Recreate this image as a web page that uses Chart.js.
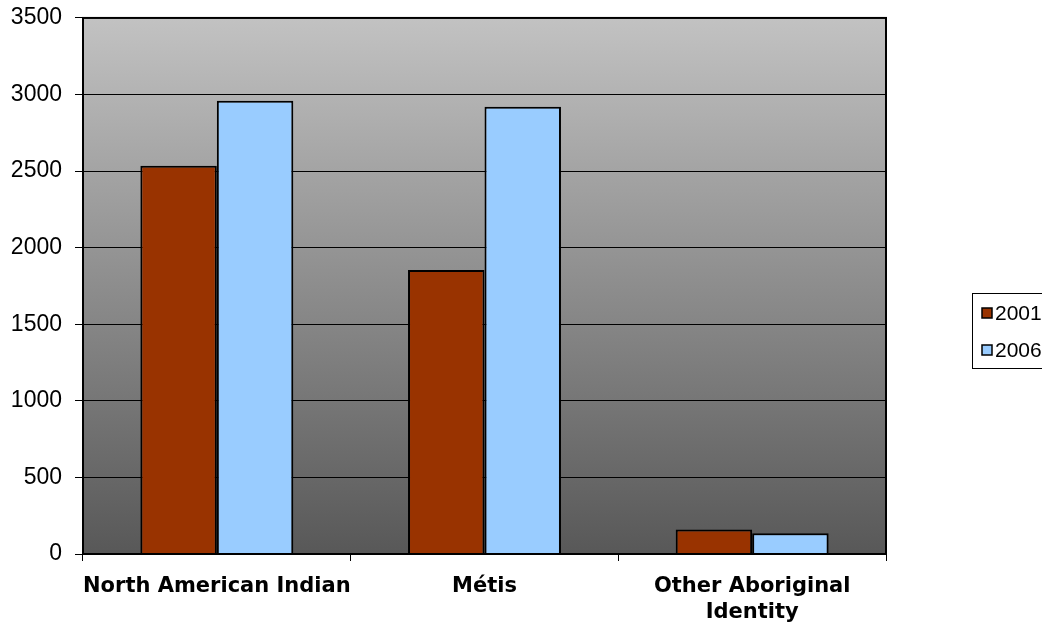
<!DOCTYPE html>
<html>
<head>
<meta charset="utf-8">
<script src="https://cdn.jsdelivr.net/npm/chart.js@4"></script>
<style>
  html, body { margin: 0; padding: 0; background: #fff; }
  #wrap { width: 1042px; height: 626px; }
</style>
</head>
<body>
<div id="wrap"><canvas id="myChart" width="1042" height="626"></canvas></div>
<script>
// data
var categories = ["North American Indian", "Métis", ["Other Aboriginal", "Identity"]];
var seriesNames = ["2001", "2006"];
var values2001 = [2535, 1855, 160];
var values2006 = [2960, 2920, 135];
var barColors = ["#993300", "#99CCFF"];

// grey gradient behind the plot + border round it
var plotBackground = {
    id: "plotBackground",
    beforeDraw: function (chart) {
        var ctx = chart.ctx;
        var a = chart.chartArea;
        var g = ctx.createLinearGradient(0, a.top, 0, a.bottom);
        g.addColorStop(0, "#c2c2c2");
        g.addColorStop(1, "#585858");
        ctx.save();
        ctx.fillStyle = g;
        ctx.fillRect(a.left, a.top, a.right - a.left, a.bottom - a.top);
        ctx.restore();
    },
    afterDraw: function (chart) {
        var ctx = chart.ctx;
        var a = chart.chartArea;
        ctx.save();
        ctx.strokeStyle = "#000";
        ctx.lineWidth = 2;
        ctx.strokeRect(a.left, a.top, a.right - a.left, a.bottom - a.top);
        ctx.restore();
    }
};

// boxed legend on the right, like the original
var boxLegend = {
    id: "boxLegend",
    afterDraw: function (chart) {
        var ctx = chart.ctx;
        ctx.save();
        ctx.strokeStyle = "#000";
        ctx.lineWidth = 1;
        ctx.strokeRect(972.5, 293.5, 80, 75);
        ctx.font = "21px 'Liberation Sans'";
        ctx.textBaseline = "middle";
        chart.data.datasets.forEach(function (ds, i) {
            var y = 313 + i * 37;
            ctx.fillStyle = ds.backgroundColor;
            ctx.fillRect(982, y - 5, 10, 10);
            ctx.strokeStyle = "#000";
            ctx.lineWidth = 1.5;
            ctx.strokeRect(982, y - 5, 10, 10);
            ctx.fillStyle = "#000";
            ctx.fillText(ds.label, 995, y + 1);
        });
        ctx.restore();
    }
};

var chart = new Chart(document.getElementById("myChart"), {
    type: "bar",
    data: {
        labels: categories,
        datasets: [{
            label: seriesNames[0],
            data: values2001,
            backgroundColor: barColors[0],
            borderColor: "#000",
            borderWidth: 2
        }, {
            label: seriesNames[1],
            data: values2006,
            backgroundColor: barColors[1],
            borderColor: "#000",
            borderWidth: 2
        }]
    },
    options: {
        responsive: false,
        animation: false,
        layout: { padding: { top: 0, right: 156, bottom: 0, left: 0 } },
        datasets: {
            bar: { categoryPercentage: 2 / 3.5, barPercentage: 1 }
        },
        plugins: {
            legend: { display: false },
            tooltip: { enabled: false }
        },
        scales: {
            x: {
                grid: {
                    drawOnChartArea: false,
                    drawTicks: true,
                    tickLength: 7,
                    color: "#000",
                    lineWidth: 1
                },
                border: { color: "#000", width: 2 },
                ticks: {
                    color: "#000",
                    padding: 12,
                    maxRotation: 0,
                    autoSkip: false,
                    font: { family: "'DejaVu Sans'", size: 21, weight: "bold", lineHeight: 1.25 }
                },
                afterFit: function (scale) { scale.height = 72; }
            },
            y: {
                min: 0,
                max: 3500,
                ticks: {
                    stepSize: 500,
                    color: "#000",
                    padding: 13,
                    // small lineHeight keeps the plot top up at y=17
                    font: { family: "'Liberation Sans'", size: 23, lineHeight: 0.43 },
                    callback: function (v) { return String(v); }
                },
                grid: {
                    color: "#000",
                    lineWidth: 1,
                    tickLength: 8
                },
                border: { color: "#000", width: 2 },
                afterFit: function (scale) { scale.width = 83; }
            }
        }
    },
    plugins: [plotBackground, boxLegend]
});
</script>
</body>
</html>
